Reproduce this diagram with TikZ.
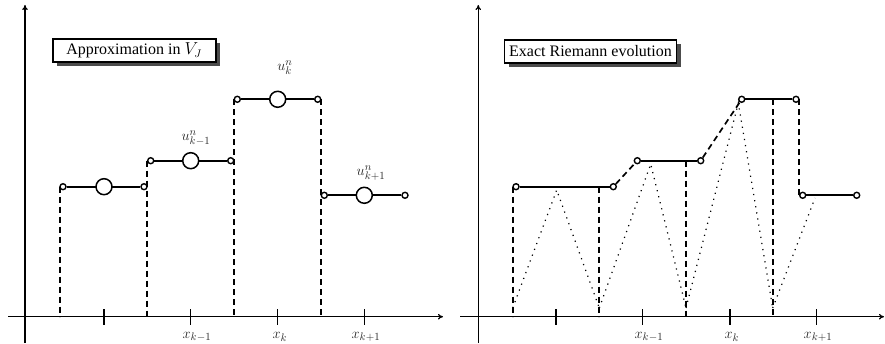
\documentclass[tikz,border=0pt]{standalone}
\usepackage{fontspec}
\newfontfamily\boxfont{Liberation Serif}
\usetikzlibrary{arrows.meta,shadows}
\begin{document}
\begin{tikzpicture}[x=1pt,y=-1pt,
  axis/.style={line width=1.2pt,-{To[length=5pt,width=5.5pt]}},
  tickmark/.style={line width=1.5pt},
  stepline/.style={line width=1.7pt},
  dashline/.style={line width=1.7pt,dash pattern=on 6pt off 4pt},
  dotline/.style={line width=1.2pt,dash pattern=on 1.2pt off 5pt},
  endpt/.style={circle,draw,fill=white,line width=1.4pt,inner sep=0pt,minimum size=6pt},
  bigpt/.style={circle,draw,fill=white,line width=1.5pt,inner sep=0pt,minimum size=16pt},
  titlebox/.style={draw,fill=white,line width=1.6pt,inner sep=0pt,
    font=\boxfont\fontsize{16}{18}\selectfont,
    drop shadow={shadow xshift=4pt,shadow yshift=-4pt,fill=black!70,opacity=1}},
  lab/.style={font=\fontsize{15.5}{17}\selectfont,inner sep=0pt,text=black!85}
]
\useasboundingbox (0,0) rectangle (885,344);

% ===== Left panel =====
\coordinate (LO1) at (8,316.7);  \coordinate (LO2) at (443,316.7);
\coordinate (LY1) at (25,343);   \coordinate (LY2) at (25,5);
\draw[axis] (LO1) -- (LO2);
\draw[axis] (LY1) -- (LY2);
\foreach \x/\n in {104/a,190.7/b,277.7/c,364.7/d}{
  \coordinate (lt\n1) at (\x,309); \coordinate (lt\n2) at (\x,325);
  \draw[tickmark] (lt\n1) -- (lt\n2);
}
\node[lab] (lxa) at (197,337) {$x_{k-1}$};
\node[lab] (lxb) at (280,337) {$x_k$};
\node[lab] (lxc) at (366,337) {$x_{k+1}$};

% dashed verticals
\foreach \x/\y/\n in {60/186.7/a,147.3/160.7/b,234.3/99.3/c,321.3/99.3/d}{
  \coordinate (ld\n1) at (\x,\y); \coordinate (ld\n2) at (\x,316.7);
  \draw[dashline] (ld\n1) -- (ld\n2);
}
% steps
\node[endpt] (s1a) at (63,186.7) {};   \node[endpt] (s1b) at (144,186.7) {};
\node[endpt] (s2a) at (150.7,160.7) {}; \node[endpt] (s2b) at (230.7,160.7) {};
\node[endpt] (s3a) at (237.3,99.3) {};  \node[endpt] (s3b) at (317.7,99.3) {};
\node[endpt] (s4a) at (324.3,195.3) {}; \node[endpt] (s4b) at (405,195.3) {};
\draw[stepline] (s1a) -- (s1b);
\draw[stepline] (s2a) -- (s2b);
\draw[stepline] (s3a) -- (s3b);
\draw[stepline] (s4a) -- (s4b);
\node[bigpt] (c1) at (104,186.7) {};
\node[bigpt] (c2) at (190.7,160.7) {};
\node[bigpt] (c3) at (277.7,99.3) {};
\node[bigpt] (c4) at (364.3,195.3) {};
\node[lab] (u2) at (196,138) {$u^n_{k-1}$};
\node[lab] (u3) at (285,68) {$u^n_{k}$};
\node[lab] (u4) at (371,173) {$u^n_{k+1}$};

\node[titlebox,minimum width=163pt,minimum height=23pt] (bl) at (134.2,50.8) {Approximation in $V_J$};

% ===== Right panel =====
\coordinate (RO1) at (460,316.7);  \coordinate (RO2) at (884,316.7);
\coordinate (RY1) at (478.3,343);  \coordinate (RY2) at (478.3,5);
\draw[axis] (RO1) -- (RO2);
\draw[axis] (RY1) -- (RY2);
\foreach \x/\n in {556/a,642.7/b,730/c,816.7/d}{
  \coordinate (rt\n1) at (\x,309); \coordinate (rt\n2) at (\x,325);
  \draw[tickmark] (rt\n1) -- (rt\n2);
}
\node[lab] (rxa) at (649,337) {$x_{k-1}$};
\node[lab] (rxb) at (732,337) {$x_k$};
\node[lab] (rxc) at (818,337) {$x_{k+1}$};

% dotted zigzag
\coordinate (zb1) at (512.7,308); \coordinate (zp1) at (556.7,190);
\coordinate (zb2) at (599.3,308); \coordinate (zp2) at (650.7,164);
\coordinate (zb3) at (686,308);   \coordinate (zp3) at (738.3,103);
\coordinate (zb4) at (772.7,308); \coordinate (zp4) at (815,198);
\draw[dotline] (zb1) -- (zp1) -- (zb2);
\draw[dotline] (zb2) -- (zp2) -- (zb3);
\draw[dotline] (zb3) -- (zp3) -- (zb4);
\draw[dotline] (zb4) -- (zp4);

% dashed verticals
\foreach \x/\y/\n in {512.7/186.7/a,599.3/186.7/b,686/160.7/c,772.7/99.3/d}{
  \coordinate (rd\n1) at (\x,\y); \coordinate (rd\n2) at (\x,316.7);
  \draw[dashline] (rd\n1) -- (rd\n2);
}
\coordinate (rde1) at (799.3,99.3); \coordinate (rde2) at (799.3,195.3);
\draw[dashline] (rde1) -- (rde2);

\node[endpt] (r1a) at (516,186.7) {};   \node[endpt] (r1b) at (613.3,186.7) {};
\node[endpt] (r2a) at (637.3,160.7) {}; \node[endpt] (r2b) at (700.7,160.7) {};
\node[endpt] (r3a) at (741.7,99.3) {};  \node[endpt] (r3b) at (796,99.3) {};
\node[endpt] (r4a) at (802.7,195.3) {}; \node[endpt] (r4b) at (856.7,195.3) {};
\draw[stepline] (r1a) -- (r1b);
\draw[stepline] (r2a) -- (r2b);
\draw[stepline] (r3a) -- (r3b);
\draw[stepline] (r4a) -- (r4b);
\draw[dashline] (r1b) -- (r2a);
\draw[dashline] (r2b) -- (r3a);

\node[titlebox,minimum width=172pt,minimum height=23pt] (br) at (590.5,51.5) {Exact Riemann evolution};
\end{tikzpicture}
\end{document}
